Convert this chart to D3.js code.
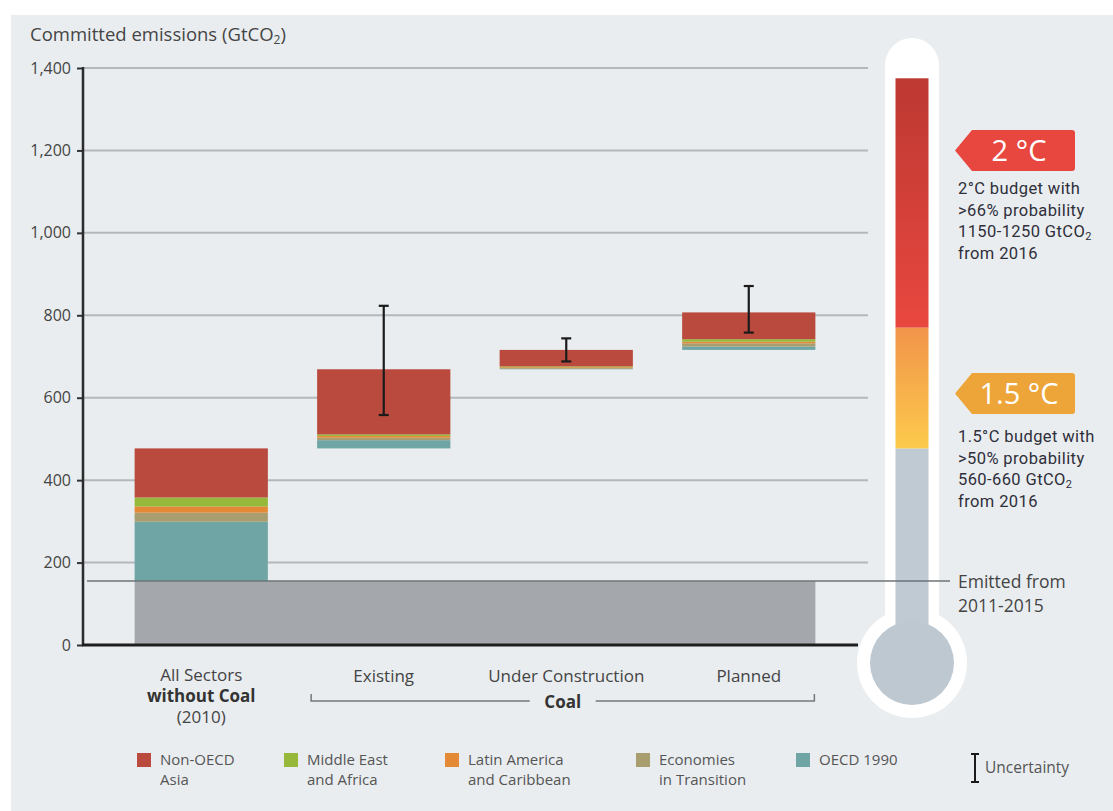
<!DOCTYPE html>
<html>
<head>
<meta charset="utf-8">
<script src="https://cdn.jsdelivr.net/npm/d3@7"></script>
<style>
  html, body { margin: 0; padding: 0; background: #fff; }
  svg { display: block; font-family: "Open Sans", sans-serif; }
</style>
</head>
<body>
<svg id="chart" width="1113" height="811"></svg>
<script>
// data (GtCO2)
const categories = ["All Sectors", "Existing", "Under Construction", "Planned"];
const regionKeys = ["oecd", "transition", "latam", "mea", "asia"]; // bottom to top
const oecd1990 = [144, 20, 1, 8];
const transition = [22, 6, 2, 8];
const latinAmerica = [15, 4, 2, 4];
const middleEastAfrica = [22, 4, 2, 6];
const nonOecdAsia = [119, 158, 40, 65];
const uncertaintyLow = [null, 558, 688, 758];
const uncertaintyHigh = [null, 823, 744, 871];
const emitted2011to2015 = 155;
const yTicks = [0, 200, 400, 600, 800, 1000, 1200, 1400];
// thermometer levels
const thermoLevels = [477, 770, 1375]; // grey top, 1.5C top, 2C top
const budget2C = [1150, 1250];
const budget15C = [560, 660];

const colors = {
  asia: "#b94a3d",
  mea: "#97b93b",
  latam: "#e48a37",
  transition: "#a89e70",
  oecd: "#6fa5a4"
};

const width = 1113, height = 811;
const svg = d3.select("#chart");

// background panel
svg.append("rect").attr("x", 11).attr("y", 15).attr("width", width - 11).attr("height", height - 15).attr("fill", "#e9edf0");

const y = d3.scaleLinear().domain([0, 1400]).range([645, 68]);
const x = d3.scaleBand().domain(categories).range([89, 861]).paddingInner(0.27).paddingOuter(0.25);
const axisX = 83;

const defs = svg.append("defs");
const redGrad = defs.append("linearGradient").attr("id", "redGrad")
  .attr("gradientUnits", "userSpaceOnUse").attr("x1", 0).attr("x2", 0)
  .attr("y1", y(thermoLevels[2])).attr("y2", y(thermoLevels[1]));
redGrad.append("stop").attr("offset", 0).attr("stop-color", "#bd3932");
redGrad.append("stop").attr("offset", 1).attr("stop-color", "#e8473f");
const orangeGrad = defs.append("linearGradient").attr("id", "orangeGrad")
  .attr("gradientUnits", "userSpaceOnUse").attr("x1", 0).attr("x2", 0)
  .attr("y1", y(thermoLevels[1])).attr("y2", y(thermoLevels[0]));
orangeGrad.append("stop").attr("offset", 0).attr("stop-color", "#f1944a");
orangeGrad.append("stop").attr("offset", 1).attr("stop-color", "#fdca4c");

// title
const title = svg.append("text").attr("x", 30).attr("y", 41).attr("font-size", 18.5).attr("fill", "#454545");
title.append("tspan").text("Committed emissions (GtCO");
title.append("tspan").attr("font-size", 12).attr("dy", 3).text("2");
title.append("tspan").attr("dy", -3).text(")");

// grid lines
svg.append("g").selectAll("line").data(yTicks.filter(d => d > 0)).join("line")
  .attr("x1", axisX).attr("x2", 868)
  .attr("y1", d => y(d)).attr("y2", d => y(d))
  .attr("stroke", "#b3b8bc").attr("stroke-width", 2);

// y axis
const yAxis = svg.append("g").attr("transform", `translate(${axisX},0)`)
  .call(d3.axisLeft(y).tickValues(yTicks).tickFormat(d3.format(",")).tickSize(6).tickPadding(6));
yAxis.select(".domain").remove();
yAxis.selectAll(".tick line").attr("stroke", "#333").attr("stroke-width", 2);
yAxis.selectAll(".tick text").attr("font-size", 16).attr("fill", "#444").attr("font-family", "Open Sans, sans-serif");

// emitted 2011-2015 block
const bw = x.bandwidth();
svg.append("rect")
  .attr("x", x(categories[0]))
  .attr("width", x(categories[categories.length - 1]) + bw - x(categories[0]))
  .attr("y", y(emitted2011to2015))
  .attr("height", y(0) - y(emitted2011to2015))
  .attr("fill", "#a4a8ad");

// stacked waterfall bars
const rows = categories.map((c, i) => ({
  cat: c,
  oecd: oecd1990[i], transition: transition[i], latam: latinAmerica[i],
  mea: middleEastAfrica[i], asia: nonOecdAsia[i]
}));
const totals = rows.map(r => d3.sum(regionKeys, k => r[k]));
const bases = [];
rows.forEach((r, i) => { bases[i] = i === 0 ? emitted2011to2015 : bases[i - 1] + totals[i - 1]; });
const stacked = d3.stack().keys(regionKeys)(rows);

svg.append("g").selectAll("g").data(stacked).join("g")
  .attr("fill", d => colors[d.key])
  .selectAll("rect").data(d => d).join("rect")
  .attr("x", d => x(d.data.cat))
  .attr("width", bw)
  .attr("y", (d, i) => y(d[1] + bases[i]))
  .attr("height", (d, i) => y(d[0] + bases[i]) - y(d[1] + bases[i]));

// uncertainty bars
const errData = categories.map((c, i) => ({ cat: c, lo: uncertaintyLow[i], hi: uncertaintyHigh[i] })).filter(d => d.lo != null);
const err = svg.append("g").attr("stroke", "#1b1b1b").attr("stroke-width", 2.2);
err.selectAll("line.v").data(errData).join("line").attr("class", "v")
  .attr("x1", d => x(d.cat) + bw / 2).attr("x2", d => x(d.cat) + bw / 2)
  .attr("y1", d => y(d.hi)).attr("y2", d => y(d.lo));
err.selectAll("line.h").data(errData.flatMap(d => [{ cat: d.cat, v: d.hi }, { cat: d.cat, v: d.lo }])).join("line").attr("class", "h")
  .attr("x1", d => x(d.cat) + bw / 2 - 5).attr("x2", d => x(d.cat) + bw / 2 + 5)
  .attr("y1", d => y(d.v)).attr("y2", d => y(d.v));

// axes lines
svg.append("line").attr("x1", axisX).attr("x2", axisX).attr("y1", y(1400) - 1).attr("y2", y(0))
  .attr("stroke", "#2b2b2b").attr("stroke-width", 2.5);
svg.append("line").attr("x1", axisX - 1).attr("x2", 858).attr("y1", y(0)).attr("y2", y(0))
  .attr("stroke", "#1e1e1e").attr("stroke-width", 3);

// thermometer
const tx = 912;
const bulbY = 663;
svg.append("rect").attr("x", tx - 27).attr("width", 54).attr("y", 38).attr("height", bulbY - 38).attr("rx", 27).attr("fill", "#fff");
svg.append("circle").attr("cx", tx).attr("cy", bulbY).attr("r", 55).attr("fill", "#fff");
svg.append("rect").attr("x", tx - 16.5).attr("width", 33).attr("y", y(thermoLevels[0])).attr("height", bulbY - y(thermoLevels[0])).attr("fill", "#c0cad3");
svg.append("circle").attr("cx", tx).attr("cy", bulbY).attr("r", 42).attr("fill", "#bec8d1");
svg.append("rect").attr("x", tx - 16.5).attr("width", 33).attr("y", y(thermoLevels[1])).attr("height", y(thermoLevels[0]) - y(thermoLevels[1])).attr("fill", "url(#orangeGrad)");
svg.append("rect").attr("x", tx - 16.5).attr("width", 33).attr("y", y(thermoLevels[2])).attr("height", y(thermoLevels[1]) - y(thermoLevels[2])).attr("fill", "url(#redGrad)");

// emitted line
svg.append("line").attr("x1", axisX + 4).attr("x2", 950)
  .attr("y1", y(emitted2011to2015)).attr("y2", y(emitted2011to2015))
  .attr("stroke", "#6e7377").attr("stroke-width", 1.5);

// temperature tags
function tag(mid, fill, label) {
  const yc = y(mid), h = 20.5;
  svg.append("path")
    .attr("d", `M955,${yc} L972,${yc - h} L1072,${yc - h} Q1075,${yc - h} 1075,${yc - h + 3} L1075,${yc + h - 3} Q1075,${yc + h} 1072,${yc + h} L972,${yc + h} Z`)
    .attr("fill", fill);
  svg.append("text").attr("x", 1019).attr("y", yc + 10.5).attr("text-anchor", "middle")
    .attr("fill", "#fff").attr("font-size", 29).text(label);
}
tag(d3.mean(budget2C), "#e8473f", "2 °C");
tag(d3.mean(budget15C), "#eda53a", "1.5 °C");

function desc(x0, y0, lines) {
  const t = svg.append("text").attr("font-size", 16.5).attr("fill", "#2f2f3a")
    .attr("font-family", "Roboto, sans-serif").attr("letter-spacing", 0.4);
  lines.forEach((l, i) => {
    const ts = t.append("tspan").attr("x", x0).attr("y", y0 + i * 21.5);
    if (Array.isArray(l)) {
      ts.text(l[0]);
      ts.append("tspan").attr("font-size", 11).attr("dy", 3).text(l[1]);
    } else ts.text(l);
  });
}
desc(958, 194, ["2°C budget with", ">66% probability", [`${budget2C[0]}-${budget2C[1]} GtCO`, "2"], "from 2016"]);
desc(958, 442, ["1.5°C budget with", ">50% probability", [`${budget15C[0]}-${budget15C[1]} GtCO`, "2"], "from 2016"]);
const em = svg.append("text").attr("font-size", 17.5).attr("fill", "#444");
em.append("tspan").attr("x", 958).attr("y", 588).text("Emitted from");
em.append("tspan").attr("x", 958).attr("y", 612).text("2011-2015");

// category labels
const catText = svg.append("g").attr("font-size", 17).attr("fill", "#444").attr("text-anchor", "middle");
const c0 = x(categories[0]) + bw / 2;
catText.append("text").attr("x", c0).attr("y", 681).text("All Sectors");
catText.append("text").attr("x", c0).attr("y", 702).attr("font-weight", "bold").attr("fill", "#333").text("without Coal");
catText.append("text").attr("x", c0).attr("y", 723).text("(2010)");
const coalLabels = ["Existing", "Under Construction", "Planned"];
catText.selectAll("text.coal").data(categories.slice(1)).join("text").attr("class", "coal")
  .attr("x", d => x(d) + bw / 2).attr("y", 682).text((d, i) => coalLabels[i]);

// coal bracket
const bx0 = x(categories[1]) - 6, bx1 = x(categories[3]) + bw - 1;
const bmid = (bx0 + bx1) / 2;
const by = 701;
const br = svg.append("g").attr("stroke", "#777").attr("stroke-width", 1.5).attr("fill", "none");
br.append("path").attr("d", `M${bx0},${by - 7} V${by} H${bmid - 33}`);
br.append("path").attr("d", `M${bmid + 33},${by} H${bx1} V${by - 7}`);
svg.append("text").attr("x", bmid).attr("y", by + 7).attr("text-anchor", "middle")
  .attr("font-size", 17).attr("font-weight", "bold").attr("fill", "#333").text("Coal");

// legend
const legendItems = [
  { key: "asia", lines: ["Non-OECD", "Asia"] },
  { key: "mea", lines: ["Middle East", "and Africa"] },
  { key: "latam", lines: ["Latin America", "and Caribbean"] },
  { key: "transition", lines: ["Economies", "in Transition"] },
  { key: "oecd", lines: ["OECD 1990"] }
];
const legendX = [137, 284, 445, 636, 796];
const lg = svg.append("g").selectAll("g").data(legendItems).join("g")
  .attr("transform", (d, i) => `translate(${legendX[i]},753)`);
lg.append("rect").attr("width", 14).attr("height", 14).attr("fill", d => colors[d.key]);
lg.append("text").attr("font-size", 15).attr("fill", "#555")
  .selectAll("tspan").data(d => d.lines).join("tspan")
  .attr("x", 23).attr("y", (d, i) => 12 + i * 19.5).text(d => d);

// uncertainty legend
const ux = 975;
const ul = svg.append("g").attr("stroke", "#1b1b1b").attr("stroke-width", 2);
ul.append("line").attr("x1", ux).attr("x2", ux).attr("y1", 754).attr("y2", 782);
ul.append("line").attr("x1", ux - 4).attr("x2", ux + 4).attr("y1", 754).attr("y2", 754);
ul.append("line").attr("x1", ux - 4).attr("x2", ux + 4).attr("y1", 782).attr("y2", 782);
svg.append("text").attr("x", 985).attr("y", 773).attr("font-size", 15.5).attr("fill", "#555").text("Uncertainty");
</script>
</body>
</html>
